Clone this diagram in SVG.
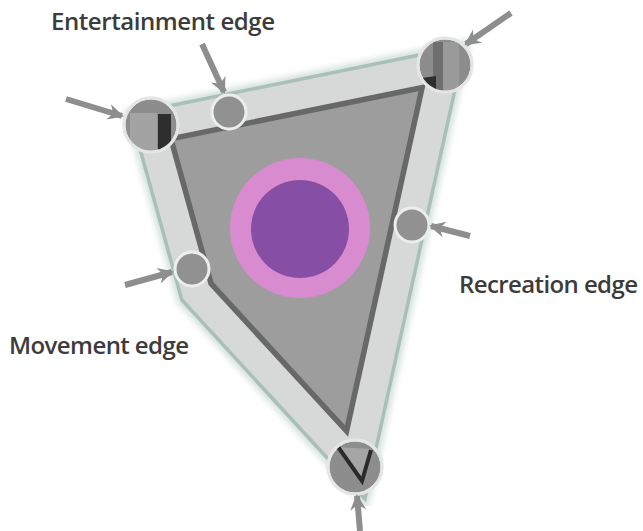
<svg xmlns="http://www.w3.org/2000/svg" width="643" height="531" viewBox="0 0 643 531">
<style>
.lbl{font-family:"Open Sans","Liberation Sans",sans-serif;font-size:24px;font-weight:600;fill:#3c3c3c}
.arrow{stroke:#8e8e8e;stroke-width:6;fill:none;marker-end:url(#ah)}
.big{fill:#8d8d8d;stroke:#e4e6e5;stroke-width:3}
.small{fill:#919191;stroke:#eceeed;stroke-width:3}
</style>
<defs>
<marker id="ah" markerUnits="userSpaceOnUse" markerWidth="20" markerHeight="20" viewBox="0 0 20 20" refX="16" refY="10" orient="auto">
<path d="M2,2 L18,10 L2,18 L7,10 Z" fill="#8e8e8e"/>
</marker>
<clipPath id="inside"><polygon points="150,126 444,66 356,466 196,292"/></clipPath>
<clipPath id="cTL"><circle cx="151" cy="125" r="27"/></clipPath>
<clipPath id="cTR"><circle cx="445" cy="65" r="27"/></clipPath>
<clipPath id="cB"><circle cx="355" cy="467" r="27"/></clipPath>
<filter id="blur" x="-10%" y="-10%" width="120%" height="120%"><feGaussianBlur stdDeviation="3"/></filter>
</defs>
<rect width="643" height="531" fill="#ffffff"/>

<g id="frame">
<polygon points="150,126 444,66 356,466 196,292" fill="none" stroke="#d3e0dc" stroke-width="42" stroke-linejoin="miter" filter="url(#blur)"/>
<polygon points="150,126 444,66 356,466 196,292" fill="#9d9d9d" stroke="#a9bfba" stroke-width="35" stroke-linejoin="miter"/>
<polygon points="150,126 444,66 356,466 196,292" fill="none" stroke="#686868" stroke-width="39" clip-path="url(#inside)"/>
<polygon points="150,126 444,66 356,466 196,292" fill="none" stroke="#d6d9d8" stroke-width="28" stroke-linejoin="miter"/>
</g>

<g id="centre">
<circle cx="300" cy="228" r="70" fill="#d98bd0"/>
<circle cx="300" cy="229" r="49" fill="#864fa5"/>
</g>

<g id="corner-top-left">
<circle class="big" cx="151" cy="125" r="27"/>
<g clip-path="url(#cTL)">
<rect x="130" y="113" width="27" height="40" fill="#a3a3a3"/>
<rect x="158" y="114" width="13" height="36" fill="#2e2e2e"/>
</g>
<circle cx="151" cy="125" r="27" fill="none" stroke="#e4e6e5" stroke-width="3"/>
</g>

<g id="corner-top-right">
<circle class="big" cx="445" cy="65" r="27"/>
<g clip-path="url(#cTR)">
<rect x="433" y="42" width="10" height="50" fill="#6e6e6e"/>
<rect x="443" y="42" width="16" height="50" fill="#9a9a9a"/>
<polygon points="422,78 436,76 436,90 424,90" fill="#2e2e2e"/>
</g>
<circle cx="445" cy="65" r="27" fill="none" stroke="#e4e6e5" stroke-width="3"/>
</g>

<g id="corner-bottom">
<circle class="big" cx="355" cy="467" r="27"/>
<g clip-path="url(#cB)">
<polygon points="337,447 371,449 362,481" fill="#a5a5a5"/>
<polyline points="336,444 362,481 371,450" fill="none" stroke="#2a2a2a" stroke-width="4"/>
</g>
<circle cx="355" cy="467" r="27" fill="none" stroke="#e4e6e5" stroke-width="3"/>
</g>

<g id="entertainment-point"><circle class="small" cx="229" cy="112" r="17"/></g>
<g id="recreation-point"><circle class="small" cx="412" cy="225" r="17"/></g>
<g id="movement-point"><circle class="small" cx="192" cy="269" r="17"/></g>

<g id="connectors">
<line class="arrow" x1="66" y1="99" x2="122" y2="116"/>
<line class="arrow" x1="202" y1="44" x2="224" y2="92"/>
<line class="arrow" x1="511" y1="13" x2="466" y2="44"/>
<line class="arrow" x1="470" y1="236" x2="431" y2="226"/>
<line class="arrow" x1="125" y1="285" x2="172" y2="272"/>
<line class="arrow" x1="360" y1="531" x2="357" y2="496"/>
</g>

<g id="labels">
<text class="lbl" x="51" y="30" textLength="224" lengthAdjust="spacing">Entertainment edge</text>
<text class="lbl" x="459" y="293" textLength="179" lengthAdjust="spacing">Recreation edge</text>
<text class="lbl" x="9" y="354" textLength="180" lengthAdjust="spacing">Movement edge</text>
</g>
</svg>
